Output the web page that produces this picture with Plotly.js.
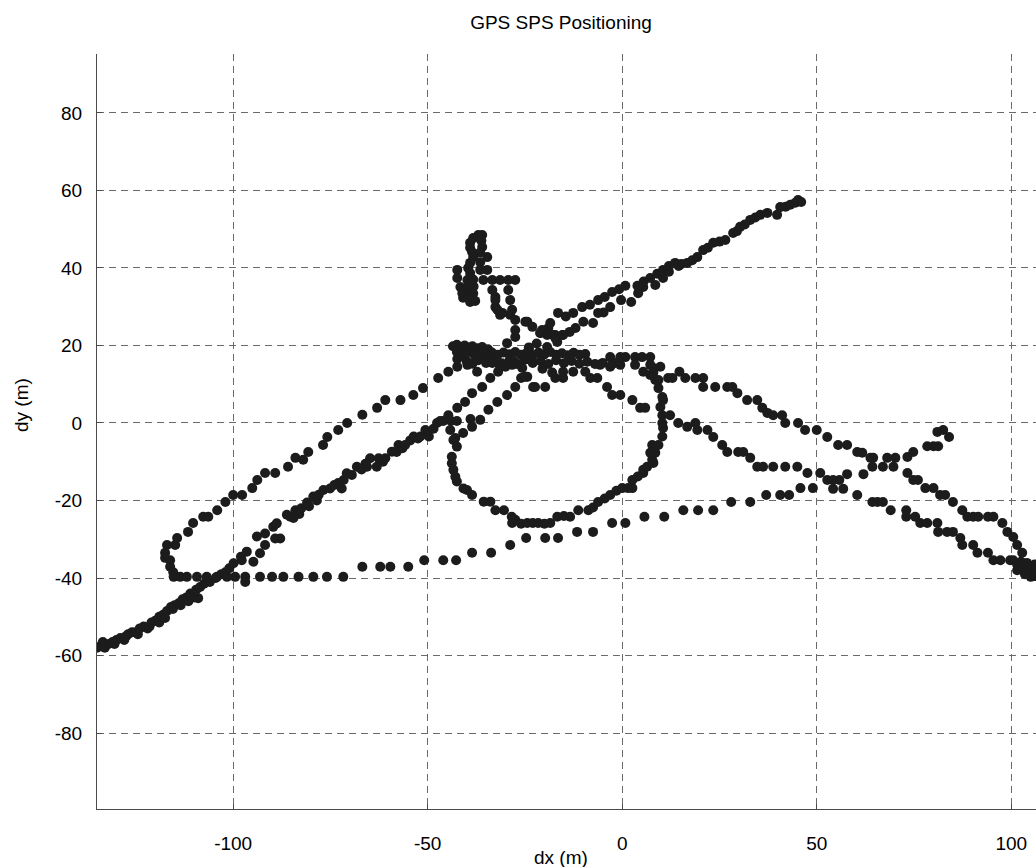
<!DOCTYPE html>
<html>
<head>
<meta charset="utf-8">
<script src="https://cdn.plot.ly/plotly-3.0.1.min.js"></script>
<style>
html,body{margin:0;padding:0;overflow:hidden;background:#fff;}
#chart{width:1100px;height:867px;}
</style>
</head>
<body>
<div id="chart"></div>
<script>
// Tick labels
const xTicks = [-100, -50, 0, 50, 100];
const yTicks = [-80, -60, -40, -20, 0, 20, 40, 60, 80];

// Position fixes [dx, dy] in metres, grouped by track segment
const thickLine = [[-135,-58],[-134,-57.5],[-133.5,-56.5],[-133,-58],[-132,-57],[-131,-56.5],[-130.5,-57],[-130,-56],[-129,-55.5],[-128,-56],[-127.5,-55],[-127,-54.5],[-126,-54],[-125,-54],[-124.5,-54.5],[-124,-53],[-123,-52.5],[-122,-53],[-121.5,-52.5],[-121,-51.5],[-120,-51],[-119,-51.5],[-119,-50],[-118,-49.5],[-117,-48.5],[-116,-47.5],[-117.5,-50.3],[-115.5,-48],[-115,-47],[-114,-46.5],[-113.5,-47],[-113,-45.5],[-112,-45],[-111.5,-46],[-111,-44],[-110,-45],[-109,-45.2],[-109.5,-43],[-108.5,-42.3],[-107.5,-41.5],[-106,-41],[-104.5,-40],[-103,-39],[-102,-38.5],[-101,-37.5],[-99.9,-36.2],[-98,-34.5],[-97.8,-35.4],[-96.5,-33.2],[-94.8,-35.8],[-93.1,-33.6],[-91.8,-31.5],[-93.9,-29.3],[-91.8,-28.5],[-89.7,-26.8],[-88.8,-25.9],[-89.2,-29.8],[-87.9,-29.8],[-86.2,-23.7],[-85.3,-24.2],[-84.5,-24.5],[-84,-22.5],[-83,-23.5],[-82.5,-22],[-81,-20.5],[-80.5,-21.5],[-79.4,-19],[-78.5,-20],[-78,-18.5],[-76.8,-17.3],[-75.1,-16.9],[-74,-16],[-73,-15.5],[-72.1,-16.9],[-71.6,-14.7],[-70.8,-13],[-69.5,-13.4],[-68.2,-11.3],[-67,-12],[-66,-10.5],[-65.6,-11.3],[-64.8,-9.1],[-63.1,-11.3],[-62.6,-9.1],[-61.5,-10],[-60.9,-9.1],[-59.2,-7.4],[-58,-7.5],[-57.5,-5.7],[-56.5,-6.5],[-55.8,-5.7],[-54.5,-4.5],[-53.6,-3.5],[-52.5,-4],[-51.9,-3.5],[-50.6,-1.8],[-49.7,-3.5],[-48.5,-1.5],[-47.6,0],[-46,0.5],[-44.7,2],[-42.4,3.9],[-40.4,5.4],[-38.6,7.7],[-36,9.3],[-33.9,11.6],[-31.9,13.2],[-30,14.5],[-28,16],[-26,17.5],[-24,19],[-22,20.5],[-21,23.2],[-19,24.5]];

const upperDiag = [[-18.5,25.8],[-16.5,28.4],[-14.5,27.5],[-12.6,28.4],[-10.3,29.9],[-8.3,30.5],[-6.2,31.7],[-4.5,32.5],[-2.6,33.8],[-0.8,34.5],[0.8,35.4],[3.9,35.4],[5.5,36.5],[7.2,37.4],[9,38.5],[10.5,39.5],[12,40.5],[13.6,41.3],[15.2,41],[16.7,41.3],[18,42],[19.3,42.8],[20.8,44.6],[22,45.2],[23.4,46.5],[25,46.8],[26.5,47.2],[28.5,49],[29.5,49.5],[30.3,50.6],[31.5,51.2],[32.9,52.4],[34.2,53],[35.5,53.7],[37.3,54.2],[39.8,53.7],[40.6,55.7],[42,55.8],[43.2,56.3],[44.5,56.8],[45.2,57.5],[46,57]];

const lowerDiag = [[-17.7,22.7],[-15.2,22.7],[-13.5,23.5],[-12,24.5],[-10,26.1],[-7.5,25.8],[-6.2,28.4],[-4.8,28.5],[-3.1,29.9],[-0.3,31.7],[2.3,31.2],[4.1,33.5],[5.4,35.1],[8.5,35.6],[10.5,37.4],[12,39],[14.5,40.5]];

const upperLeftLine = [[-114.9,-31.5],[-114.4,-29.7],[-111.6,-28.1],[-110.3,-25.8],[-107.7,-24.2],[-106.4,-24.2],[-104.1,-22.5],[-102,-20.4],[-100,-18.6],[-97.7,-18.6],[-95.1,-16.8],[-93.8,-14.7],[-91.8,-12.9],[-89.2,-12.9],[-85.9,-11.3],[-84,-9],[-82,-9.5],[-80.7,-7.5],[-76.9,-5.7],[-75.8,-3.6],[-73,-1.8],[-70.7,0],[-66.8,2.1],[-63,3.9],[-60.9,5.9],[-57,5.9],[-53.7,7.2],[-51.2,9],[-47.3,11.6],[-44.7,13.2],[-42.4,14.5],[-42.4,16.5]];

const bottomLine = [[-117,-31.5],[-117.5,-33.5],[-117.5,-34.8],[-116.2,-35.4],[-116.2,-37.1],[-115.4,-38.5],[-115.3,-39.7],[-113.6,-39.7],[-111.9,-39.7],[-109.3,-39.7],[-106.8,-39.7],[-104.2,-39.7],[-101.6,-39.7],[-99.5,-39.7],[-96.9,-41],[-96.9,-39.7],[-93.1,-39.7],[-90,-39.7],[-87.1,-39.7],[-83.2,-39.7],[-79.4,-39.7],[-75.9,-39.7],[-71.7,-39.7],[-66.8,-37.1],[-62.2,-37.1],[-59.6,-37.1],[-55,-37.1],[-50.9,-35.4],[-46,-35.4],[-42.7,-35.4],[-38.6,-33.5],[-33.7,-33.5],[-28.8,-31.5],[-24.7,-29.7],[-19.8,-29.7],[-16.5,-29.7],[-11.6,-28.1],[-7.5,-28.1],[-2.6,-25.8],[0.8,-25.8],[5.7,-24.2],[10.8,-24.2],[15.7,-22.5],[19.5,-22.5],[23.4,-22.5],[28,-20.4],[32.9,-20.4],[37,-18.6],[40.6,-18.6],[42.9,-18.6],[45.8,-16.8],[49,-16.8],[54.2,-17],[56.8,-17],[55.8,-14.7],[57.8,-13.2],[62,-13.2],[64.5,-9],[68.1,-9],[70.2,-9],[73.3,-8.8],[74.8,-7.5],[78.4,-6],[80,-6],[81.2,-6],[81,-2.3],[82.5,-1.8],[84,-3.6]];

const ringLoop = [[-46.8,0.5],[-44,0.5],[-42.5,0.5],[-39,1],[-44.2,-1.8],[-42.9,-3.9],[-43.4,-4.4],[-42.5,-6.1],[-43.8,-8.7],[-43.8,-10.4],[-43.4,-12.1],[-42.9,-13.9],[-42.5,-15.1],[-40.8,-16.9],[-39.9,-17.3],[-38.6,-18.6],[-35.6,-20.3],[-33.9,-20.3],[-32.6,-22.5],[-30.4,-22.5],[-28.4,-24.2],[-27.5,-25],[-28.3,-25.8],[-26,-26],[-24.4,-25.8],[-23,-25.8],[-21.6,-25.8],[-20,-26],[-18.5,-25.8],[-16.7,-24.2],[-15,-24],[-13.4,-24.2],[-11.3,-22.5],[-8.7,-22.5],[-7.5,-21.8],[-6.2,-20.4],[-4.5,-19.5],[-3.1,-18.6],[-1.5,-17.5],[0,-16.8],[1.5,-16.8],[2.6,-16.8],[2.6,-14.7],[4,-13.8],[5.4,-12.9],[5.4,-12.1],[6.4,-11.3],[8,-10.3],[7.7,-9.5],[7.2,-7.7],[8.5,-7.7],[7.7,-5.7],[9.3,-5.7],[10.3,-3.5],[10.5,-1.3],[10.3,0],[10.3,2],[9.8,4.1],[10.5,5.9],[10.3,6.7],[9.3,9],[8.5,11.1],[8,13],[7.2,12.4],[5.4,13.2],[8,14.2],[9.8,14.5],[7.2,15],[7.2,17]];

const ringTopArc = [[-40.9,-2.6],[-38.6,-1],[-36.5,0.8],[-34.4,3.4],[-32.1,5.4],[-29.6,7.2],[-27.5,9.3],[-26,11.6],[-24.4,11.9],[-22.9,9.3],[-19.8,9.3],[-17.2,11.6],[-15.2,11.6],[-15.2,13.2],[-12.6,13.2],[-9.5,13.2],[-8.2,11.6],[-6.4,11.6],[-5.7,15],[-3.1,14.5],[-0.5,15],[3.3,15],[-3.1,17],[-0.5,17],[0.8,17],[3.3,17],[5.1,17]];

const band = [[-43.5,19.8],[-42.5,20.2],[-41.5,19.6],[-40.5,20],[-39.5,19.5],[-38.5,19.8],[-37.2,19.3],[-36,19.6],[-34.5,19],[-29.6,20.6],[-24,19.5],[-19.3,19.6],[-16.7,20.9],
[-42.5,18.3],[-41,17.8],[-39.5,18.3],[-38,17.6],[-36.5,18.2],[-35,17.7],[-33.5,18.2],[-32,17.6],[-30.5,18.2],[-29,17.7],[-27.5,18.3],[-26,17.6],[-24.5,18.1],[-23,17.5],[-21.5,18.2],[-20,17.7],[-18.5,18.3],[-17,17.6],[-15.5,18],[-14,17.5],[-12.5,18.1],[-11,17.6],[-9.5,17.8],
[-40,16],[-38.5,15.3],[-37,16.2],[-35,15.5],[-33,16.3],[-31,15.4],[-29,16.1],[-27,15.2],[-25,16.3],[-23,15.5],[-21,16],[-19,15.2],[-17,16.2],[-15,15.4],[-13,16],[-11,15.3],[-9,15.8],[-7,15.2],[-5,15.5],[-2.5,15.2],[-1,15.8],
[-39.8,15],[-37.3,13.2],[-35.2,16.3],[-33.4,15.5],[-31.4,14.5],[-28.3,15],[-25.7,14.2],[-24.9,11.9],[-22.4,9.3],[-20.5,14],[-18,13]];

const topCluster = [[-42.4,39.5],[-42.4,37.4],[-41.6,35.1],[-41.1,33.5],[-37,48.5],[-36,48.5],[-38.3,47.7],[-39.1,46.5],[-36.2,47],[-39.1,45.2],[-36,45.4],[-38.6,44.1],[-36.5,44],[-38.3,42.8],[-34.7,42.8],[-39.1,41.3],[-36.5,41.5],[-39.6,40],[-36.5,39.5],[-34.7,39.5],[-39.1,38.7],[-39.8,36.9],[-38.3,37],[-35.7,36.9],[-33.4,36.9],[-31.4,36.9],[-29.3,36.9],[-27.5,36.9],[-39.6,35.1],[-38.2,35.2],[-39.8,33.5],[-38.3,33.4],[-40.9,32.3],[-39.1,31.2],[-37.8,31.5],[-33.4,34.3],[-32.6,32.5],[-32.6,31.7],[-32.6,29.9],[-32.1,29.2],[-31.4,27.9],[-30.8,28.4],[-28.8,27.9],[-29.3,34.3],[-28.8,31.7],[-28.3,29.2],[-27.5,26.6],[-27.5,24],[-27.5,22.2],[-24.9,26.1],[-24.4,26.1],[-23.1,24.8],[-21.1,23.2],[-20.6,24],[-19.3,22.7],[-17.2,22.7],[-17.2,21.9],[-15.4,22.7]];

const upperRightLine = [[9.3,11.1],[11.8,11.6],[12.9,11.6],[14.7,13.2],[16.2,11.6],[18.8,11.6],[20.8,11.6],[20.8,9.3],[23.9,9.3],[27,9.3],[28.3,9.3],[29.6,7.7],[32.1,5.9],[34.7,5.9],[36,3.9],[37.3,2.6],[38.8,2],[41.1,2],[41.9,0],[45.2,0],[47,-1.8],[50,-1.8],[52.7,-3.6],[55.5,-5.7],[57.8,-5.7],[60.4,-7.5],[61.7,-7.7],[63.8,-9],[64.3,-11.3],[67,-11.3],[69.7,-11.3],[73.3,-12.9],[74.8,-14.7],[76,-14.7],[77.9,-16.8],[80,-16.8],[81.7,-18.6],[83,-18.6],[85,-20.4],[87.4,-22.5],[88.7,-24.2],[90.2,-24.2],[91.5,-24.2],[94,-24.2],[95.4,-24.2],[97.7,-25.8],[99,-28.1],[100.5,-29.4],[101.5,-31.5],[102.8,-33.5],[104,-36.1]];

const lowerRightLine = [[-3.9,9.3],[-2.6,7.2],[-0.5,7.2],[2.6,5.9],[4.6,3.9],[5.9,3.9],[12.3,2],[14.4,0],[16.7,-1],[18.8,0],[19.3,-1.8],[21.9,-1.8],[23.4,-3.6],[25.7,-5.7],[27,-7.5],[29.8,-7.5],[31.1,-7.5],[32.9,-9],[34.7,-11.3],[36.2,-11.3],[38.8,-11.3],[41.9,-11.3],[45,-11.3],[47.6,-12.9],[50.9,-12.9],[52.7,-14.7],[54.2,-14.7],[60.4,-18.6],[64.3,-20.4],[65.6,-20.4],[67,-20.4],[69,-22.5],[73,-22.5],[73,-24.2],[75.3,-24.2],[76.6,-25.8],[78.4,-25.8],[81,-25.8],[81.2,-28.1],[83.5,-28.1],[85,-28.1],[86.9,-29.7],[87.4,-31.5],[90.2,-31.5],[91.3,-33.5],[94,-33.5],[95.4,-35.4],[97.2,-35.4],[99.7,-35.4]];

const endCluster = [[100.5,-35.4],[101.5,-36.5],[102.5,-35.8],[103,-37.5],[104,-38.5],[104.5,-37],[105.5,-38],[106,-39.5],[105,-39.7],[103.5,-39],[101.5,-38],[102,-37],[106,-36.5],[106.5,-38.5]];

const segments = [thickLine, upperDiag, lowerDiag, upperLeftLine, bottomLine, ringLoop, ringTopArc, band, topCluster, upperRightLine, lowerRightLine, endCluster];
const xs = [], ys = [];
segments.forEach(seg => seg.forEach(p => { xs.push(p[0]); ys.push(p[1]); }));

const axisColor = '#4a4a4a';
const gridColor = '#6a6a6a';
const fontFam = '"Liberation Sans", Arial, sans-serif';
const fs = 19;

const trace = {
  x: xs, y: ys, type: 'scatter', mode: 'markers',
  marker: {color: '#1c1c1c', size: 10, line: {width: 0}},
  hoverinfo: 'skip', showlegend: false
};

const layout = {
  width: 1100, height: 867,
  margin: {l: 97, r: 0, t: 54, b: 58, pad: 0},
  paper_bgcolor: '#ffffff', plot_bgcolor: '#ffffff',
  font: {family: fontFam, size: fs, color: '#000'},
  title: {text: 'GPS SPS Positioning', font: {family: fontFam, size: fs, color: '#000'},
          xref: 'container', yref: 'container', x: 561/1100, y: 1 - 22/867, xanchor: 'center', yanchor: 'middle'},
  xaxis: {range: [-135, 122.8], tickvals: xTicks, ticktext: xTicks.map(String),
          showgrid: true, gridcolor: gridColor, griddash: '7px,5px', gridwidth: 1,
          showline: true, linecolor: axisColor, linewidth: 1, mirror: false,
          ticks: 'inside', ticklen: 5, tickcolor: axisColor, zeroline: false,
          tickfont: {family: fontFam, size: fs, color: '#000'}, ticklabelstandoff: 17},
  yaxis: {range: [-99.6, 95.2], tickvals: yTicks, ticktext: yTicks.map(String),
          showgrid: true, gridcolor: gridColor, griddash: '7px,5px', gridwidth: 1,
          showline: true, linecolor: axisColor, linewidth: 1, mirror: false,
          ticks: 'inside', ticklen: 5, tickcolor: axisColor, zeroline: false,
          tickfont: {family: fontFam, size: fs, color: '#000'}, ticklabelstandoff: 10},
  annotations: [
    {text: 'dx (m)', xref: 'paper', yref: 'paper', x: (561-97)/1003, y: (809-857)/755,
     xanchor: 'center', yanchor: 'middle', showarrow: false, font: {family: fontFam, size: fs, color: '#000'}},
    {text: 'dy (m)', xref: 'paper', yref: 'paper', x: (21-97)/1003, y: (809-405)/755, textangle: -90,
     xanchor: 'center', yanchor: 'middle', showarrow: false, font: {family: fontFam, size: fs, color: '#000'}}
  ]
};

Plotly.newPlot('chart', [trace], layout, {displayModeBar: false, staticPlot: true});
</script>
</body>
</html>
